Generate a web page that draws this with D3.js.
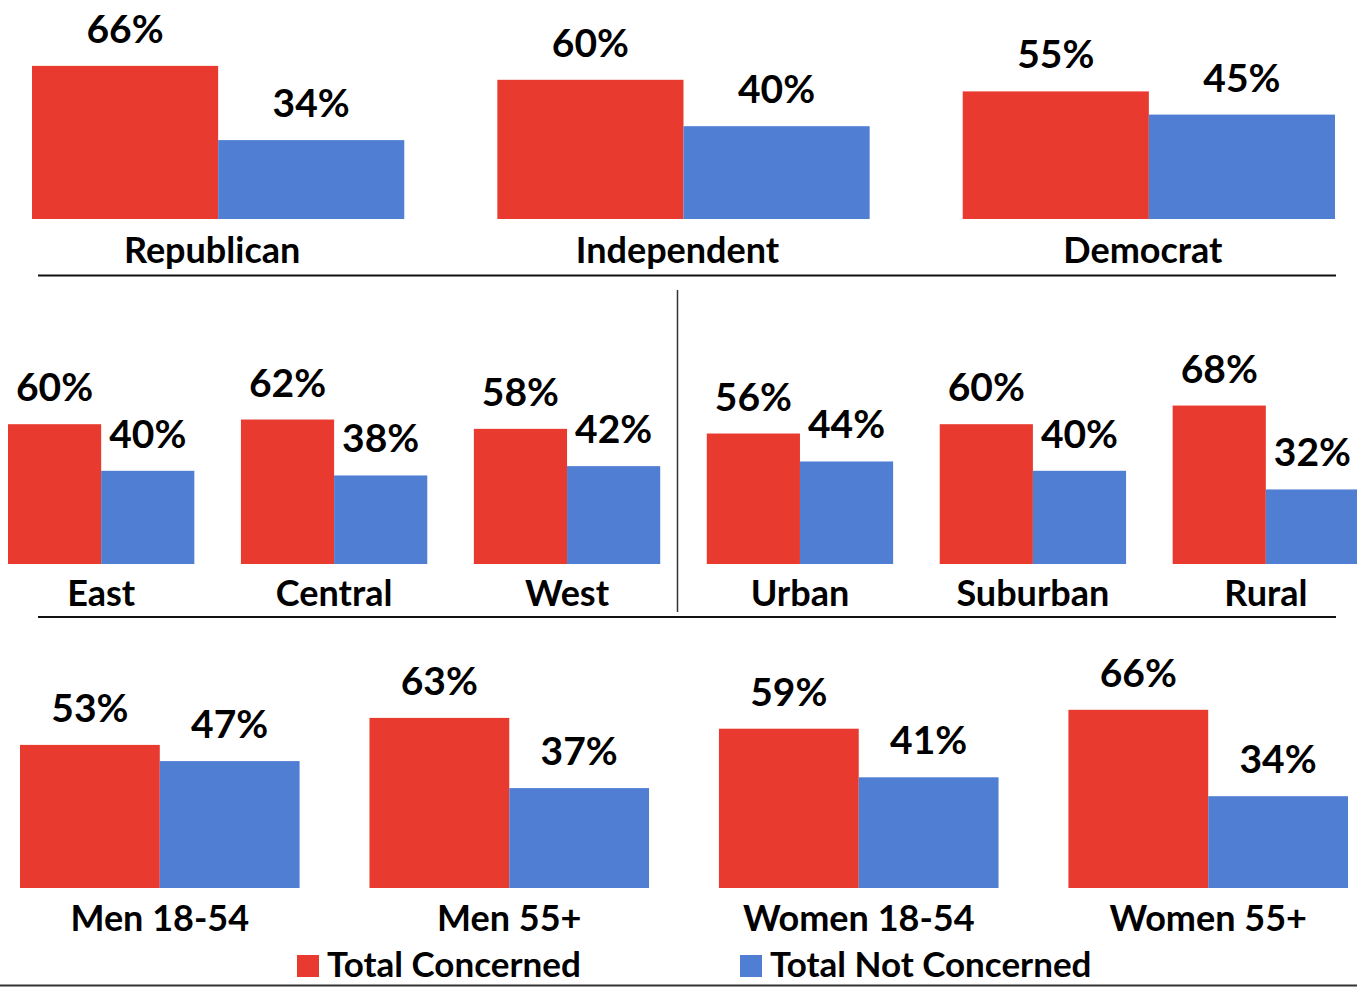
<!DOCTYPE html>
<html>
<head>
<meta charset="utf-8">
<script src="https://cdn.jsdelivr.net/npm/d3@7"></script>
<style>
  body { margin: 0; background: #fff; }
  svg { display: block; font-family: Lato, "Open Sans", sans-serif; font-weight: 700; }
</style>
</head>
<body>
<div id="chart"></div>
<script>
// series
const seriesKeys = ['concerned', 'notConcerned'];
const seriesNames = ['Total Concerned', 'Total Not Concerned'];
const seriesColors = ['#e93a2f', '#4f7ed3'];

// row 1: party
const partyCats = ['Republican', 'Independent', 'Democrat'];
const partyConcerned = [66, 60, 55];
const partyNotConcerned = [34, 40, 45];

// row 2: region + area type
const placeCats = ['East', 'Central', 'West', 'Urban', 'Suburban', 'Rural'];
const placeConcerned = [60, 62, 58, 56, 60, 68];
const placeNotConcerned = [40, 38, 42, 44, 40, 32];

// row 3: gender / age
const demoCats = ['Men 18-54', 'Men 55+', 'Women 18-54', 'Women 55+'];
const demoConcerned = [53, 63, 59, 66];
const demoNotConcerned = [47, 37, 41, 34];

const width = 1357;
const height = 987;

const svg = d3.select('#chart').append('svg')
    .attr('width', width)
    .attr('height', height);

// one panel per row
const rows = [
    {cats: partyCats, a: partyConcerned, b: partyNotConcerned, x0: 32, x1: 1335, base: 219, h: 232, labelGap: 44, catShift: -6},
    {cats: placeCats, a: placeConcerned, b: placeNotConcerned, x0: 8, x1: 1359, base: 564, h: 233, labelGap: 42, catShift: 0},
    {cats: demoCats, a: demoConcerned, b: demoNotConcerned, x0: 20, x1: 1348, base: 888, h: 270, labelGap: 43, catShift: 0},
];

const addRow = (row) => {
    const g = svg.append('g').attr('class', 'row');

    const xGroup = d3.scaleBand()
        .domain(row.cats)
        .range([row.x0, row.x1])
        .paddingInner(0.2);

    const xSeries = d3.scaleBand()
        .domain(seriesKeys)
        .range([0, xGroup.bandwidth()]);

    const y = d3.scaleLinear()
        .domain([0, 100])
        .range([row.base, row.base - row.h]);

    const items = row.cats.map((c, i) => ({cat: c, values: [row.a[i], row.b[i]]}));

    const groups = g.selectAll('g.group')
        .data(items)
        .join('g')
        .attr('class', 'group')
        .attr('transform', d => `translate(${xGroup(d.cat)},0)`);

    const bars = groups.selectAll('g.bar')
        .data(d => d.values.map((v, i) => ({key: seriesKeys[i], value: v, color: seriesColors[i]})))
        .join('g')
        .attr('class', 'bar');

    bars.append('rect')
        .attr('x', d => xSeries(d.key))
        .attr('y', d => y(d.value))
        .attr('width', xSeries.bandwidth())
        .attr('height', d => y(0) - y(d.value))
        .attr('fill', d => d.color);

    bars.append('text')
        .attr('x', d => xSeries(d.key) + xSeries.bandwidth() / 2)
        .attr('y', d => y(d.value) - 23)
        .attr('text-anchor', 'middle')
        .attr('font-size', 39)
        .attr('fill', '#000')
        .text(d => `${d.value}%`);

    // category labels under the bars
    groups.append('text')
        .attr('x', xGroup.bandwidth() / 2 + row.catShift)
        .attr('y', row.base + row.labelGap)
        .attr('text-anchor', 'middle')
        .attr('font-size', 36)
        .attr('fill', '#000')
        .text(d => d.cat);
};

rows.forEach(addRow);

// separators
const lines = svg.append('g').attr('class', 'separators');
lines.append('line').attr('x1', 38).attr('x2', 1336).attr('y1', 275.5).attr('y2', 275.5)
    .attr('stroke', '#111').attr('stroke-width', 2);
lines.append('line').attr('x1', 38).attr('x2', 1336).attr('y1', 617).attr('y2', 617)
    .attr('stroke', '#111').attr('stroke-width', 2);
lines.append('line').attr('x1', 677.5).attr('x2', 677.5).attr('y1', 290).attr('y2', 612)
    .attr('stroke', '#333').attr('stroke-width', 1.5);
lines.append('line').attr('x1', 0).attr('x2', width).attr('y1', 985.5).attr('y2', 985.5)
    .attr('stroke', '#333').attr('stroke-width', 2);

// legend
const legend = svg.append('g').attr('class', 'legend');
const legendX = [297, 740];
seriesNames.forEach((name, i) => {
    const item = legend.append('g').attr('transform', `translate(${legendX[i]},955)`);
    item.append('rect').attr('width', 22).attr('height', 22).attr('fill', seriesColors[i]);
    item.append('text').attr('x', 30).attr('y', 22)
        .attr('font-size', 35).attr('fill', '#000')
        .text(name);
});
</script>
</body>
</html>
